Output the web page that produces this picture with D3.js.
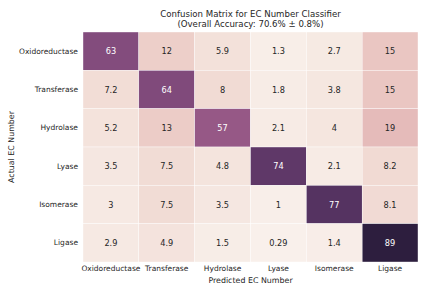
<!DOCTYPE html>
<html>
<head>
<meta charset="utf-8">
<script src="https://cdn.jsdelivr.net/npm/d3@7"></script>
<style>
  body { margin: 0; background: #fff; }
  text { font-family: "DejaVu Sans", sans-serif; fill: #262626; }
</style>
</head>
<body>
<svg id="chart" width="428" height="294"></svg>
<script>
const svg = d3.select('#chart');

// Data
const classes = ['Oxidoreductase', 'Transferase', 'Hydrolase', 'Lyase', 'Isomerase', 'Ligase'];
const rowOxido = [63, 12, 5.9, 1.3, 2.7, 15];
const rowTrans = [7.2, 64, 8, 1.8, 3.8, 15];
const rowHydro = [5.2, 13, 57, 2.1, 4, 19];
const rowLyase = [3.5, 7.5, 4.8, 74, 2.1, 8.2];
const rowIsom = [3, 7.5, 3.5, 1, 77, 8.1];
const rowLigase = [2.9, 4.9, 1.5, 0.29, 1.4, 89];
const matrix = [rowOxido, rowTrans, rowHydro, rowLyase, rowIsom, rowLigase];

const margin = { left: 83, right: 10, top: 32, bottom: 32 };
const width = 418 - margin.left;
const height = 262 - margin.top;

// seaborn cubehelix_palette(light=.95, as_cmap=True)
function cubehelix(t) {
    const x = 0.95 + (0.15 - 0.95) * t;
    const start = 0, rot = 0.4, hue = 0.8;
    const a = hue * x * (1 - x) / 2;
    const phi = 2 * Math.PI * (start / 3 + rot * x);
    const f = (p0, p1) => Math.max(0, Math.min(1, x + a * (p0 * Math.cos(phi) + p1 * Math.sin(phi))));
    return [f(-0.14861, 1.78277), f(-0.29227, -0.90649), f(1.97294, 0.0)];
}

const cells = [];
matrix.forEach((row, i) => row.forEach((v, j) => cells.push({ r: classes[i], c: classes[j], v: v })));

const vmin = d3.min(cells, d => d.v);
const vmax = d3.max(cells, d => d.v);
const norm = d3.scaleLinear().domain([vmin, vmax]).range([0, 1]).clamp(true);

const x = d3.scaleBand().domain(classes).range([0, width]);
const y = d3.scaleBand().domain(classes).range([0, height]);

const g = svg.append('g').attr('transform', `translate(${margin.left},${margin.top})`);

g.selectAll('rect.cell')
    .data(cells)
    .enter()
    .append('rect')
    .attr('class', 'cell')
    .attr('x', d => x(d.c))
    .attr('y', d => y(d.r))
    .attr('width', x.bandwidth())
    .attr('height', y.bandwidth())
    .attr('fill', d => {
        const c = cubehelix(norm(d.v));
        return d3.rgb(c[0] * 255, c[1] * 255, c[2] * 255);
    })
    .attr('stroke', '#fff')
    .attr('stroke-width', 0.4);

// annotation colour like seaborn: white on dark cells
function lum(c) {
    const l = c.map(v => v <= 0.03928 ? v / 12.92 : Math.pow((v + 0.055) / 1.055, 2.4));
    return 0.2126 * l[0] + 0.7152 * l[1] + 0.0722 * l[2];
}

g.selectAll('text.annot')
    .data(cells)
    .enter()
    .append('text')
    .attr('class', 'annot')
    .attr('x', d => x(d.c) + x.bandwidth() / 2)
    .attr('y', d => y(d.r) + y.bandwidth() / 2)
    .attr('text-anchor', 'middle')
    .attr('dominant-baseline', 'central')
    .style('font-size', '8.2px')
    .style('fill', d => lum(cubehelix(norm(d.v))) < 0.408 ? '#fff' : '#262626')
    .text(d => d.v);

// axes without lines, only labels
const xAxis = g.append('g')
    .attr('transform', `translate(0,${height})`)
    .call(d3.axisBottom(x).tickSize(0).tickPadding(4));
const yAxis = g.append('g')
    .call(d3.axisLeft(y).tickSize(0).tickPadding(5));
[xAxis, yAxis].forEach(a => {
    a.select('.domain').remove();
    a.selectAll('text').style('font-size', '7.5px').style('font-family', '"DejaVu Sans", sans-serif').attr('fill', '#262626');
});

svg.append('text')
    .attr('x', margin.left + width / 2)
    .attr('y', 283)
    .attr('text-anchor', 'middle')
    .style('font-size', '7.9px')
    .text('Predicted EC Number');

svg.append('text')
    .attr('transform', `translate(14,${margin.top + height / 2}) rotate(-90)`)
    .attr('text-anchor', 'middle')
    .style('font-size', '7.9px')
    .text('Actual EC Number');

const title = svg.append('text')
    .attr('x', margin.left + width / 2)
    .attr('text-anchor', 'middle')
    .style('font-size', '8.6px');
title.append('tspan').attr('x', margin.left + width / 2).attr('y', 17).text('Confusion Matrix for EC Number Classifier');
title.append('tspan').attr('x', margin.left + width / 2).attr('y', 27).text('(Overall Accuracy: 70.6% ± 0.8%)');
</script>
</body>
</html>
